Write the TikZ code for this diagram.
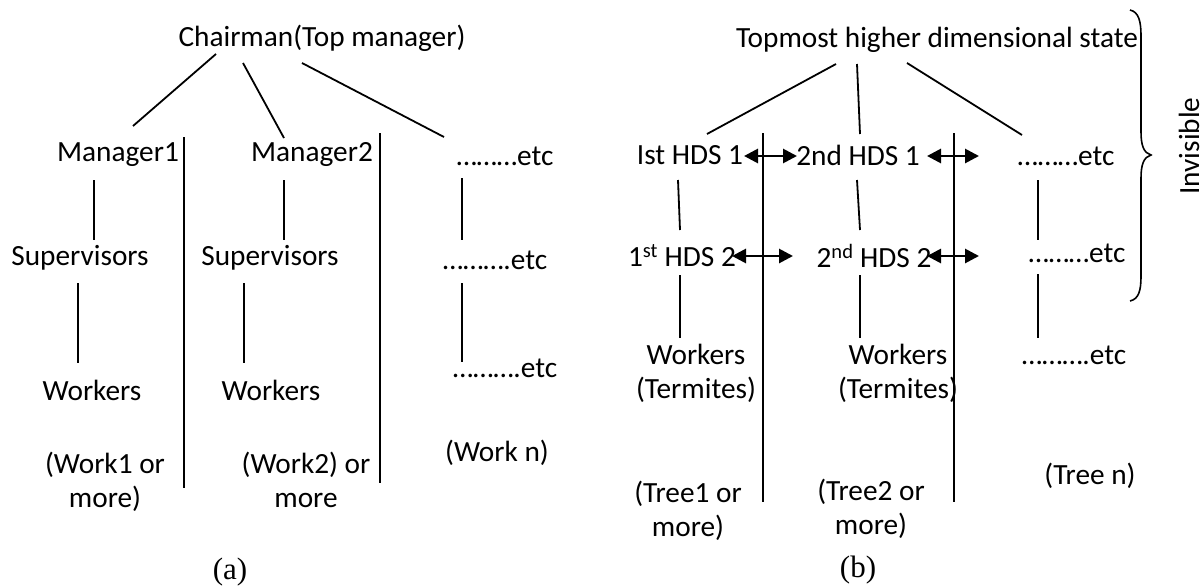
\documentclass[tikz,border=0pt]{standalone}
\usepackage{fontspec}
\setmainfont{Carlito}
\newfontfamily\capfont{Liberation Serif}
\usetikzlibrary{arrows.meta}
\begin{document}
\begin{tikzpicture}[x=1pt,y=-1pt,
  txt/.style={inner sep=0pt,align=center,font=\fontsize{29.3}{34}\selectfont},
  captxt/.style={inner sep=0pt,font=\capfont\fontsize{31}{34}\selectfont},
  conn/.style={line width=1.8pt},
  sep/.style={line width=2.2pt},
  dbl/.style={line width=2.8pt,{Triangle[length=14pt,width=14pt]}-{Triangle[length=14pt,width=14pt]}}]
\useasboundingbox (0,0) rectangle (1204,586);
% ---------- (a) ----------
\node[txt] (chair) at (322,38) {Chairman(Top manager)};
\node[txt] (m1) at (118,155) {Manager1};
\node[txt] (m2) at (312,155) {Manager2};
\node[txt] (ea1) at (505,156) {………etc};
\node[txt] (s1) at (80,258) {Supervisors};
\node[txt] (s2) at (270,258) {Supervisors};
\node[txt] (ea2) at (495,260) {……….etc};
\node[txt] (w1) at (92,390) {Workers};
\node[txt] (w2) at (271,390) {Workers};
\node[txt] (ea3) at (505,368) {……….etc};
\node[txt] (wk1) at (105,482) {(Work1 or\\more)};
\node[txt] (wk2) at (306,480) {(Work2) or\\more};
\node[txt] (wkn) at (497,453) {(Work n)};
\node[captxt] (capa) at (230,572) {(a)};
% connectors (a)
\coordinate (c1a) at (216,54); \coordinate (m1t) at (133,126);
\coordinate (c2a) at (243,63); \coordinate (m2t) at (284,138);
\coordinate (c3a) at (302,63); \coordinate (ea1t) at (444,137);
\draw[conn] (c1a) -- (m1t);
\draw[conn] (c2a) -- (m2t);
\draw[conn] (c3a) -- (ea1t);
\draw[conn] (94,180) -- (94,240);
\draw[conn] (284,180) -- (284,240);
\draw[conn] (78,283) -- (78,363);
\draw[conn] (244,283) -- (244,363);
\draw[conn] (462,178) -- (462,240);
\draw[conn] (462,283) -- (462,362);
\draw[sep] (184,137) -- (184,488);
\draw[sep] (380,133) -- (380,483);
% ---------- (b) ----------
\node[txt] (top) at (937,40) {Topmost higher dimensional state};
\node[txt] (h11) at (690,155) {Ist HDS 1};
\node[txt] (h21) at (858,155) {2nd HDS 1};
\node[txt] (eb1) at (1066,156) {………etc};
\node[txt] (h12) at (682,256) {1\textsuperscript{st} HDS 2};
\node[txt] (h22) at (874,256) {2\textsuperscript{nd} HDS 2};
\node[txt] (eb2) at (1077,253) {………etc};
\node[txt] (wb1) at (696,373) {Workers\\(Termites)};
\node[txt] (wb2) at (898,373) {Workers\\(Termites)};
\node[txt] (eb3) at (1074,355) {……….etc};
\node[txt] (t1) at (688,511) {(Tree1 or\\more)};
\node[txt] (t2) at (871,509) {(Tree2 or\\more)};
\node[txt] (tn) at (1090,476) {(Tree n)};
\node[captxt] (capb) at (858,570) {(b)};
\node[txt,rotate=90,anchor=base] (inv) at (1199,146) {Invisible};
% connectors (b)
\draw[conn] (836,64) -- (707,134);
\draw[conn] (857,64) -- (860,134);
\draw[conn] (907,63) -- (1022,135);
\draw[conn] (678,180) -- (680,230);
\draw[conn] (857,180) -- (860,230);
\draw[conn] (1038,180) -- (1038,240);
\draw[conn] (680,275) -- (680,338);
\draw[conn] (860,275) -- (860,338);
\draw[conn] (1038,274) -- (1038,338);
\draw[sep] (763,133) -- (763,502);
\draw[sep] (954,133) -- (954,502);
\draw[dbl] (744,156) -- (797,156);
\draw[dbl] (927,156) -- (979,156);
\draw[dbl] (732,256) -- (793,256);
\draw[dbl] (927,256) -- (979,256);
% brace
\draw[line width=1.6pt] (1130,10) .. controls (1139,12) and (1141,22) .. (1141,36)
  -- (1141,132) .. controls (1141,146) and (1144,153) .. (1151,155)
  .. controls (1144,157) and (1141,164) .. (1141,178)
  -- (1141,276) .. controls (1141,290) and (1139,299) .. (1130,301);
\end{tikzpicture}
\end{document}
